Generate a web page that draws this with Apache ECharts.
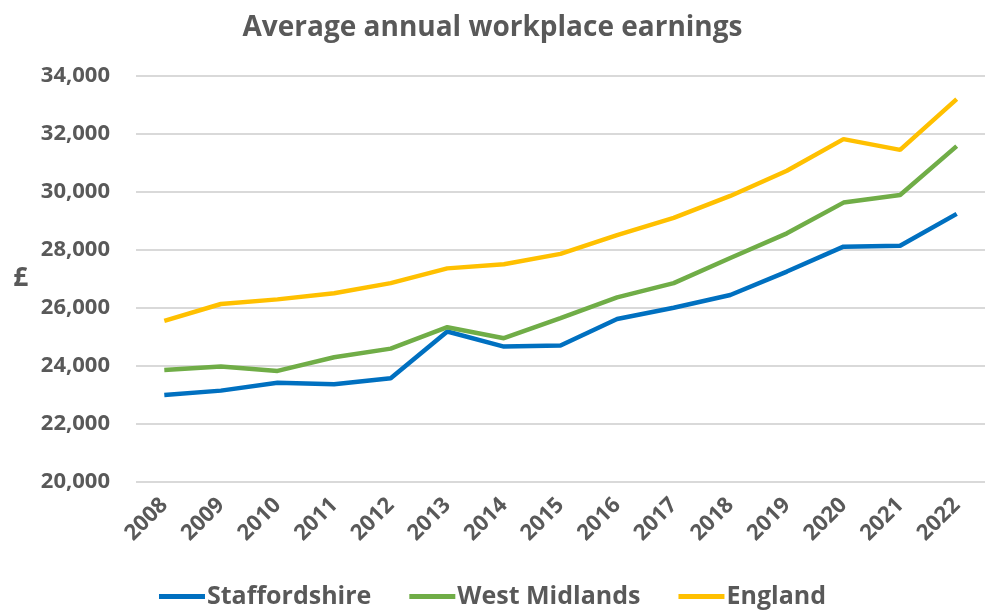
<!DOCTYPE html>
<html><head><meta charset="utf-8">
<script src="https://cdn.jsdelivr.net/npm/echarts@6/dist/echarts.min.js"></script>
<style>html,body{margin:0;padding:0;background:#fff}#c{width:985px;height:612px}</style>
</head><body><div id="c"></div>
<script>
const years = ['2008','2009','2010','2011','2012','2013','2014','2015','2016','2017','2018','2019','2020','2021','2022'];
const staffordshire = [22990,23140,23410,23360,23570,25180,24660,24700,25610,26000,26440,27250,28110,28140,29240];
const westMidlands = [23850,23970,23820,24290,24590,25330,24950,25640,26360,26850,27720,28570,29630,29890,31580];
const england = [25550,26130,26290,26500,26850,27360,27500,27860,28510,29100,29860,30730,31820,31450,33200];
const seriesNames = ['Staffordshire','West Midlands','England'];
const colors = ['#0070C0','#70AD47','#FFC000'];
const FONT = '"Open Sans", "Liberation Sans", sans-serif';
const chart = echarts.init(document.getElementById('c'));
const mk = (name, data, color) => ({
  name, type:'line', data, symbol:'none', smooth:false,
  lineStyle:{width:4.5, color}, itemStyle:{color}
});
chart.setOption({
  animation:false,
  textStyle:{fontFamily:FONT},
  title:{text:'Average annual workplace earnings', left:'center', top:9,
    textStyle:{fontFamily:FONT, fontSize:28, fontWeight:'bold', color:'#595959'}},
  grid:{left:136, top:76, width:858, height:405.6},
  legend:{top:579, left:'center', itemWidth:46, itemHeight:5, itemGap:38,
    icon:'rect',
    textStyle:{fontFamily:FONT, fontSize:25, fontWeight:'bold', color:'#595959', padding:[0,0,0,-3]},
    data:seriesNames},
  xAxis:{type:'category', data:years, boundaryGap:true,
    axisLine:{show:false}, axisTick:{show:false},
    axisLabel:{rotate:45, fontSize:22, fontWeight:'bold', color:'#595959', margin:20, interval:0, fontFamily:FONT}},
  yAxis:{type:'value', min:20000, max:34000, interval:2000,
    name:'£', nameLocation:'middle', nameRotate:0, nameGap:108,
    nameTextStyle:{fontSize:26, fontWeight:'bold', color:'#595959', fontFamily:FONT},
    axisLine:{show:false}, axisTick:{show:false},
    splitLine:{lineStyle:{color:'#D9D9D9', width:2}},
    axisLabel:{fontSize:22, fontWeight:'bold', color:'#595959', margin:26, fontFamily:FONT,
      formatter:v=>v.toLocaleString('en-GB')}},
  series:[mk(seriesNames[0], staffordshire, colors[0]), mk(seriesNames[1], westMidlands, colors[1]), mk(seriesNames[2], england, colors[2])]
});
</script></body></html>
